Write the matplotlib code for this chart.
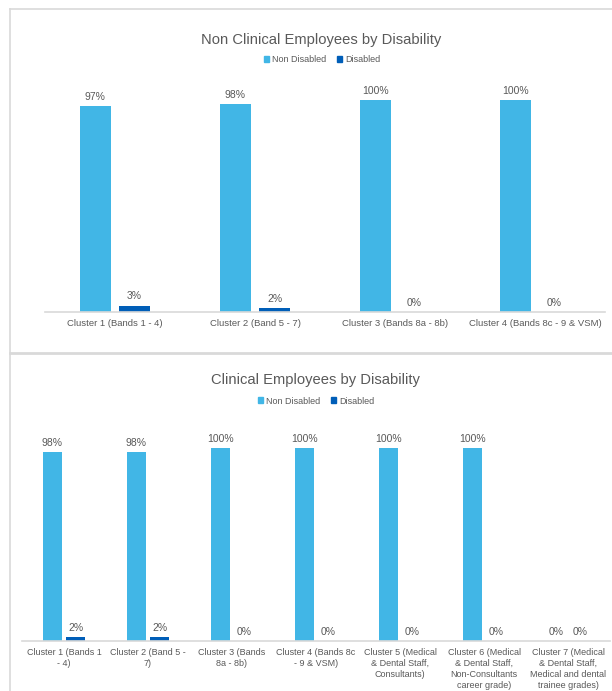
import matplotlib
matplotlib.use("Agg")
import matplotlib.pyplot as plt
from matplotlib.lines import Line2D
from matplotlib.patches import Patch
import numpy as np

plt.rcParams['font.family'] = ['Liberation Sans', 'DejaVu Sans']

# ---- data ----
series_names = ["Non Disabled", "Disabled"]

top_title = "Non Clinical Employees by Disability"
top_categories = ["Cluster 1 (Bands 1 - 4)", "Cluster 2 (Band 5 - 7)",
                  "Cluster 3 (Bands 8a - 8b)", "Cluster 4 (Bands 8c - 9 & VSM)"]
top_non_disabled = [0.97, 0.98, 1.00, 1.00]
top_disabled = [0.03, 0.02, 0.00, 0.00]

bot_title = "Clinical Employees by Disability"
bot_categories = ["Cluster 1 (Bands 1\n- 4)", "Cluster 2 (Band 5 -\n7)",
                  "Cluster 3 (Bands\n8a - 8b)", "Cluster 4 (Bands 8c\n- 9 & VSM)",
                  "Cluster 5 (Medical\n& Dental Staff,\nConsultants)",
                  "Cluster 6 (Medical\n& Dental Staff,\nNon-Consultants\ncareer grade)",
                  "Cluster 7 (Medical\n& Dental Staff,\nMedical and dental\ntrainee grades)"]
bot_non_disabled = [0.98, 0.98, 1.00, 1.00, 1.00, 1.00, 0.00]
bot_disabled = [0.02, 0.02, 0.00, 0.00, 0.00, 0.00, 0.00]

# ---- style ----
C_ND = "#41b6e6"
C_D = "#005eb8"
TXT = "#595959"
GRID = "#d9d9d9"

W, H = 612, 691
fig = plt.figure(figsize=(W / 100, H / 100), dpi=100)

def fx(px):
    return px / W

def fy(py):
    return 1 - py / H

# panel borders
fig.add_artist(Line2D([fx(10), fx(10)], [fy(9), 0], color=GRID, lw=1.2))
fig.add_artist(Line2D([fx(10), 1], [fy(9), fy(9)], color=GRID, lw=1.2))
fig.add_artist(Line2D([fx(10), 1], [fy(353), fy(353)], color=GRID, lw=2.0))


def draw_panel(left_px, right_px, base_px, full_px, cats, nd, d, title, title_xy, legend_xy,
               tick_fs, tick_ls):
    ymax = 1.2
    height_px = full_px * ymax
    ax = fig.add_axes([fx(left_px), fy(base_px), (right_px - left_px) / W, height_px / H])
    x = np.arange(len(cats))
    bw = 0.225
    off = 0.14
    b1 = ax.bar(x - off, nd, bw, color=C_ND, label=series_names[0])
    b2 = ax.bar(x + off, d, bw, color=C_D, label=series_names[1])
    for bars, vals in ((b1, nd), (b2, d)):
        for rect, v in zip(bars, vals):
            ax.annotate(f"{v * 100:.0f}%", (rect.get_x() + rect.get_width() / 2, v),
                        xytext=(0, 3), textcoords="offset points", ha="center", va="bottom",
                        fontsize=7.5, color=TXT, clip_on=False)
    ax.set_xlim(-0.5, len(cats) - 0.5)
    ax.set_ylim(0, ymax)
    ax.set_xticks(x)
    ax.set_xticklabels(cats, fontsize=tick_fs, color=TXT, linespacing=tick_ls)
    ax.tick_params(axis="x", length=0, pad=5)
    ax.set_yticks([])
    for s in ("top", "right", "left"):
        ax.spines[s].set_visible(False)
    ax.spines["bottom"].set_color(GRID)
    ax.spines["bottom"].set_linewidth(1.2)
    fig.text(fx(title_xy[0]), fy(title_xy[1]), title, ha="center", va="center",
             fontsize=10.6, color=TXT)
    handles = [Patch(color=C_ND), Patch(color=C_D)]
    fig.legend(handles, series_names, loc="center", bbox_to_anchor=(fx(legend_xy[0]), fy(legend_xy[1])),
               ncol=2, frameon=False, fontsize=6.5, labelcolor=TXT, handlelength=0.6,
               handleheight=0.6, handletextpad=0.3, columnspacing=1.2)
    return ax

draw_panel(45, 605, 312, 212, top_categories, top_non_disabled, top_disabled,
           top_title, (321, 40), (322, 60), 6.8, 1.2)
draw_panel(22, 610, 641, 193, bot_categories, bot_non_disabled, bot_disabled,
           bot_title, (315, 380), (316, 401), 6.5, 1.3)

fig.savefig("out.png", dpi=100, facecolor="white")
